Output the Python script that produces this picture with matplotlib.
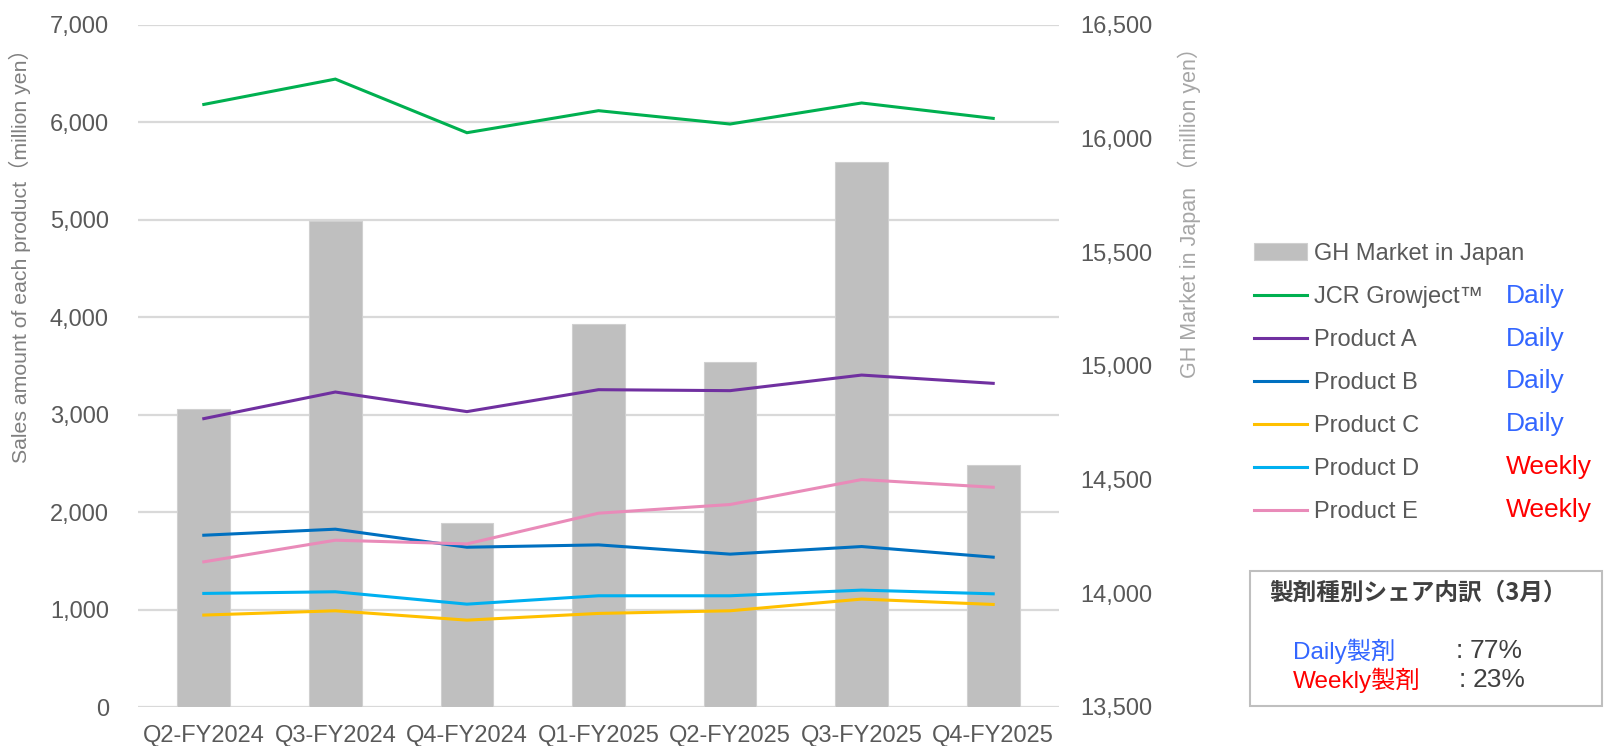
import matplotlib
matplotlib.use("Agg")
import matplotlib.pyplot as plt
from matplotlib import font_manager
from matplotlib.patches import Rectangle
from matplotlib.ticker import FuncFormatter

# --- data ---
quarters = ["Q2-FY2024", "Q3-FY2024", "Q4-FY2024", "Q1-FY2025",
            "Q2-FY2025", "Q3-FY2025", "Q4-FY2025"]
gh_market = [14808, 15635, 14311, 15183, 15015, 15894, 14563]   # right axis
jcr_growject = [6181, 6441, 5891, 6117, 5980, 6196, 6038]
product_a = [2958, 3231, 3030, 3255, 3245, 3405, 3320]
product_b = [1762, 1824, 1639, 1663, 1568, 1646, 1537]
product_c = [943, 987, 891, 960, 987, 1107, 1052]
product_d = [1165, 1182, 1055, 1141, 1141, 1199, 1161]
product_e = [1489, 1711, 1673, 1988, 2077, 2333, 2254]

line_names = ["JCR Growject™", "Product A", "Product B", "Product C", "Product D", "Product E"]
dosing = ["Daily", "Daily", "Daily", "Daily", "Weekly", "Weekly"]
share_labels = ["Daily製剤", "Weekly製剤"]
share_values = [77, 23]

line_colors = ["#00B050", "#7030A0", "#0070C0", "#FFC000", "#00B0F0", "#E98BB9"]
dosing_colors = {"Daily": "#3366FF", "Weekly": "#FF0000"}

# fonts
installed = {f.name for f in font_manager.fontManager.ttflist}
LATIN = ["Liberation Sans", "Noto Sans CJK JP"]
CJK = ["Noto Sans CJK JP", "Liberation Sans"]
if "Liberation Sans Narrow" in installed:
    NARROW, narrow_size = ["Liberation Sans Narrow", "Noto Sans CJK JP"], 16
else:
    NARROW, narrow_size = LATIN, 15.5
plt.rcParams["font.family"] = LATIN

W, H = 1605, 746
def fx(px):
    return px / W
def fy(py):
    return 1 - py / H

fig = plt.figure(figsize=(W / 100, H / 100), dpi=100)
ax = fig.add_axes([fx(138), fy(707), fx(1059) - fx(138), fy(24.6) - fy(707)])
ax_bar = ax.twinx()
ax_line = ax.twinx()
ax.set_zorder(0)
ax_bar.set_zorder(1)
ax_line.set_zorder(2)
ax_bar.patch.set_visible(False)
ax_line.patch.set_visible(False)

x = list(range(len(quarters)))

# bars (GH market, right axis)
bars = ax_bar.bar(x, gh_market, width=0.4, color="#BFBFBF", edgecolor="#D0D0D0",
                  linewidth=0.8, label="GH Market in Japan")
ax_bar.set_ylim(13500, 16500)
ax_bar.set_yticks(range(13500, 16501, 500))

# lines (left axis scale)
series = [jcr_growject, product_a, product_b, product_c, product_d, product_e]
handles = [bars]
for name, vals, col in zip(line_names, series, line_colors):
    h, = ax_line.plot(x, vals, color=col, lw=2.2, label=name, solid_joinstyle="miter")
    handles.append(h)
ax_line.set_ylim(0, 7000)
ax_line.yaxis.set_visible(False)

# left axis + grid
ax.set_ylim(0, 7000)
ax.set_yticks(range(0, 7001, 1000))
ax.set_xlim(-0.5, len(quarters) - 0.5)
ax_line.set_xlim(-0.5, len(quarters) - 0.5)
ax.set_xticks(x)
ax.set_xticklabels(quarters)
ax.yaxis.grid(True, color="#D9D9D9", lw=1.6)
ax.set_axisbelow(True)

comma = FuncFormatter(lambda v, p: f"{int(v):,}")
ax.yaxis.set_major_formatter(comma)
ax_bar.yaxis.set_major_formatter(comma)

ax.tick_params(axis="y", length=0, labelsize=17, labelcolor="#595959", pad=21)
ax.tick_params(axis="x", length=0, labelsize=17, labelcolor="#595959", pad=13)
ax_bar.tick_params(axis="y", length=0, labelsize=17, labelcolor="#595959", pad=15)
for a in (ax, ax_bar, ax_line):
    for s in a.spines.values():
        s.set_visible(False)

# axis titles
fig.text(fx(20), fy(251), "Sales amount of each product（million yen）", rotation=90,
         ha="center", va="center", fontsize=15.3, color="#7F7F7F")
fig.text(fx(1189), fy(207), "GH Market in Japan （million yen）", rotation=90,
         ha="center", va="center", fontsize=narrow_size, color="#A6A6A6", family=NARROW)

# legend
labels = ["GH Market in Japan"] + line_names
fig.legend(handles, labels, loc="upper left", bbox_to_anchor=(fx(1254), fy(243)),
           frameon=False, fontsize=17, labelcolor="#595959", handlelength=2.25,
           handletextpad=0.3, labelspacing=0.89, borderpad=0, borderaxespad=0)

for i, d in enumerate(dosing):
    fig.text(fx(1506), fy(296 + i * 42.7), d, ha="left", va="center",
             fontsize=19, color=dosing_colors[d])

# share box
fig.add_artist(Rectangle((fx(1250), fy(706)), fx(1602) - fx(1250), fy(571) - fy(706),
                         transform=fig.transFigure, fill=False, edgecolor="#BFBFBF", lw=1.5))
fig.text(fx(1269), fy(593), "製剤種別シェア内訳（3月）", ha="left", va="center",
         fontsize=17, fontweight="bold", color="#404040", family=CJK)
share_y = [651, 680]
colon_x = [1459, 1462]
for lab, val, yy, cx, col in zip(share_labels, share_values, share_y, colon_x,
                                 ["#3366FF", "#FF0000"]):
    fig.text(fx(1293), fy(yy), lab, ha="left", va="center", fontsize=17.5, color=col, family=LATIN)
    fig.text(fx(cx), fy(yy), ":", ha="center", va="center", fontsize=19, color="#404040")
    fig.text(fx(cx + 11), fy(yy), f"{val}%", ha="left", va="center", fontsize=19,
             color="#404040")

fig.savefig("out.png", dpi=100)
